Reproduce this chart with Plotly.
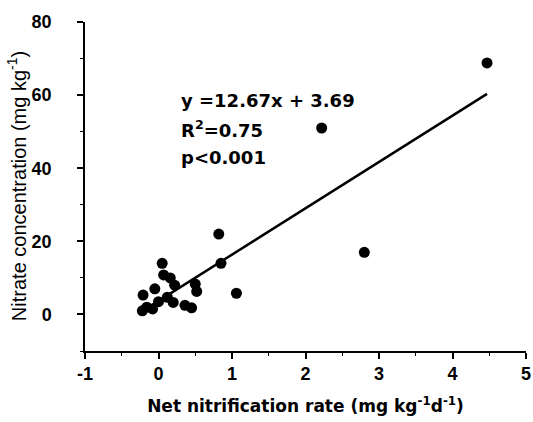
import plotly.graph_objects as go

x_rate = [4.47, 2.22, 2.80, 0.82, 0.85, 1.06, 0.50, 0.52, 0.05, 0.07, 0.16, 0.12,
          -0.21, -0.05, -0.16, -0.22, 0.00, 0.20, 0.36, 0.45, -0.08, 0.22]
y_nitrate = [68.8, 51.0, 17.0, 22.0, 14.0, 5.8, 8.3, 6.3, 14.0, 10.8, 10.0, 4.7,
             5.3, 7.0, 2.0, 1.0, 3.5, 3.3, 2.5, 1.8, 1.5, 8.0]
slope, intercept = 12.67, 3.69
fit_x = [min(x_rate), max(x_rate)]
fit_y = [slope * v + intercept for v in fit_x]
eq_lines = ["y =12.67x + 3.69", "R<sup>2</sup>=0.75", "p<0.001"]
eq_y = [58.6, 50.6, 43.0]

FONT = "Liberation Sans, Arial"
WIDE = "DejaVu Sans, Liberation Sans"

fig = go.Figure()
fig.add_trace(go.Scatter(x=fit_x, y=fit_y, mode="lines",
                         line=dict(color="black", width=2.5), hoverinfo="skip"))
fig.add_trace(go.Scatter(x=x_rate, y=y_nitrate, mode="markers",
                         marker=dict(color="black", size=11, symbol="circle")))

for t, yy in zip(eq_lines, eq_y):
    fig.add_annotation(x=0.28, y=yy, text="<b>" + t + "</b>", showarrow=False,
                       xanchor="left", yanchor="middle",
                       font=dict(family=WIDE, size=18, color="black"))

# y-axis title as a rotated annotation for exact placement
fig.add_annotation(xref="paper", yref="paper", x=-0.155, y=0.50,
                   text="Nitrate concentration (mg kg<sup>-1</sup>)", textangle=-90,
                   showarrow=False, xanchor="center", yanchor="middle",
                   font=dict(family=FONT, size=20, color="black"))

axis_common = dict(showgrid=False, zeroline=False, showline=True, linecolor="black",
                   linewidth=1.5, ticks="outside", ticklen=6, tickwidth=1.5,
                   tickcolor="black", mirror=False, automargin=False,
                   ticklabeloverflow="allow")

fig.update_xaxes(range=[-1, 5], tickvals=[-1, 0, 1, 2, 3, 4, 5],
                 ticktext=["<b>%d</b>" % v for v in [-1, 0, 1, 2, 3, 4, 5]],
                 minor=dict(dtick=0.5, ticks="outside", ticklen=3, tickcolor="black", tickwidth=1.2),
                 tickfont=dict(family=FONT, size=18, color="black"),
                 title=dict(text="<b>Net nitrification rate (mg kg<sup>-1</sup>d<sup>-1</sup>)</b>",
                            font=dict(family=WIDE, size=17, color="black"), standoff=17),
                 **axis_common)
fig.update_yaxes(range=[-10, 80], tickvals=[0, 20, 40, 60, 80],
                 ticktext=["<b>%d</b>" % v for v in [0, 20, 40, 60, 80]],
                 minor=dict(dtick=10, ticks="outside", ticklen=3, tickcolor="black", tickwidth=1.2),
                 tickfont=dict(family=FONT, size=18, color="black"),
                 ticklabelstandoff=22,
                 **axis_common)

fig.update_layout(width=533, height=422, showlegend=False,
                  plot_bgcolor="white", paper_bgcolor="white",
                  margin=dict(l=85, r=7, t=22, b=71))
# remove the page's default 8px body margin so the 533x422 figure fills the window exactly
fig.write_html("out.html", config={"displayModeBar": False},
               post_script="document.body.style.margin='0';")
